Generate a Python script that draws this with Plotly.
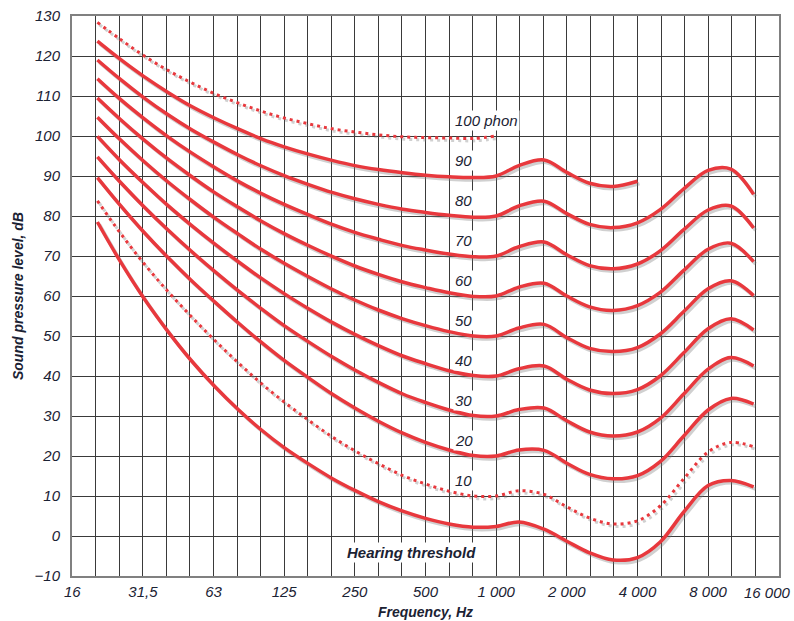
import numpy as np
import plotly.graph_objects as go

# Third-octave frequencies (Hz)
freq = [20, 25, 31.5, 40, 50, 63, 80, 100, 125, 160, 200, 250, 315, 400, 500,
        630, 800, 1000, 1250, 1600, 2000, 2500, 3150, 4000, 5000, 6300, 8000,
        10000, 12500]

# Sound pressure level (dB) for each contour
threshold = [78.5, 68.7, 59.5, 51.1, 44.0, 37.5, 31.5, 26.5, 22.1, 17.9, 14.4, 11.4, 8.6, 6.2, 4.4,
             3.0, 2.2, 2.4, 3.5, 1.7, -1.3, -4.2, -6.0, -5.4, -1.5, 6.0, 12.6, 13.9, 12.3]
phon10 = [83.8, 75.8, 68.2, 61.1, 55.0, 49.0, 43.2, 38.1, 33.5, 28.8, 24.8, 21.3, 18.1, 15.1, 13.0,
          11.2, 10.0, 10.0, 11.3, 10.4, 7.3, 4.5, 3.0, 3.8, 7.5, 14.3, 21.0, 23.4, 22.3]
phon20 = [89.6, 82.7, 76.0, 69.6, 64.0, 58.6, 53.2, 48.4, 43.9, 39.4, 35.5, 32.0, 28.7, 25.7, 23.4,
          21.5, 20.1, 20.0, 21.5, 21.4, 18.2, 15.4, 14.3, 15.1, 18.6, 25.0, 31.5, 34.4, 33.0]
phon30 = [94.8, 88.5, 82.4, 76.5, 71.3, 66.2, 61.2, 56.8, 52.6, 48.4, 44.8, 41.5, 38.4, 35.5, 33.4,
          31.5, 30.1, 30.0, 31.6, 32.0, 28.8, 26.0, 25.0, 26.0, 29.4, 35.5, 41.7, 44.6, 42.5]
phon40 = [99.9, 93.9, 88.2, 82.6, 77.8, 73.1, 68.5, 64.4, 60.6, 56.7, 53.4, 50.4, 47.6, 45.0, 43.1,
          41.3, 40.1, 40.0, 41.8, 42.5, 39.2, 36.5, 35.6, 36.6, 40.0, 45.8, 51.8, 54.3, 51.5]
phon50 = [104.7, 99.1, 93.7, 88.5, 84.0, 79.6, 75.4, 71.6, 68.2, 64.7, 61.7, 59.0, 56.5, 54.3, 52.6,
          51.1, 50.0, 50.0, 52.0, 52.9, 49.6, 46.9, 46.1, 47.1, 50.5, 56.1, 61.8, 63.8, 60.1]
phon60 = [109.5, 104.2, 99.1, 94.2, 90.0, 85.9, 82.1, 78.7, 75.6, 72.5, 69.9, 67.5, 65.4, 63.5, 62.1,
          60.8, 59.9, 60.0, 62.2, 63.2, 60.0, 57.3, 56.4, 57.6, 60.9, 66.4, 71.7, 73.2, 68.6]
phon70 = [114.3, 109.2, 104.4, 99.8, 95.9, 92.2, 88.6, 85.6, 82.9, 80.2, 77.9, 75.9, 74.2, 72.6, 71.5,
          70.5, 69.8, 70.0, 72.3, 73.5, 70.3, 67.6, 66.8, 68.0, 71.3, 76.6, 81.5, 82.5, 77.0]
phon80 = [119.0, 114.2, 109.6, 105.3, 101.7, 98.4, 95.2, 92.5, 90.1, 87.8, 85.9, 84.3, 82.9, 81.7, 80.9,
          80.2, 79.7, 80.0, 82.5, 83.7, 80.6, 77.9, 77.1, 78.3, 81.6, 86.8, 91.4, 91.7, 85.4]
phon90 = [123.7, 119.2, 114.9, 110.9, 107.5, 104.5, 101.7, 99.3, 97.3, 95.4, 93.9, 92.6, 91.6, 90.8, 90.2,
          89.8, 89.6, 90.0, 92.6, 94.0, 90.9, 88.2, 87.4, 88.7]
phon100 = [128.4, 124.2, 120.1, 116.4, 113.4, 110.6, 108.2, 106.2, 104.5, 103.0, 101.8, 101.0, 100.3, 99.8, 99.6,
           99.5, 99.4, 100.0]

# Axis ticks
x_tickvals = [15.625, 31.25, 62.5, 125, 250, 500, 1000, 2000, 4000, 8000]
x_ticktext = ["16", "31,5", "63", "125", "250", "500", "1 000", "2 000", "4 000", "8 000"]
x_last_val, x_last_text = 16000, "16 000"
x_gridvals = [1000 * 2 ** (k / 3) for k in range(-18, 13)]
y_tickvals = list(range(-10, 140, 10))

# Curve labels (text, level)
labels = [("100 phon", 100), ("90", 90), ("80", 80), ("70", 70), ("60", 60), ("50", 50),
          ("40", 40), ("30", 30), ("20", 20), ("10", 10)]

curves = [
    (phon100, True), (phon90, False), (phon80, False), (phon70, False), (phon60, False),
    (phon50, False), (phon40, False), (phon30, False), (phon20, False), (phon10, True),
    (threshold, False),
]

RED = "#e8383d"
SHADOW = "rgba(120,120,120,0.35)"
TXT = "#1b2233"
FONT = "Liberation Sans, Arial, sans-serif"

fig = go.Figure()
xshift = 2 ** (2.0 / 70.7)
for ys, dotted in curves:
    xs = freq[:len(ys)]
    fig.add_trace(go.Scatter(
        x=[v * xshift for v in xs], y=[v - 0.6 for v in ys], mode="lines",
        line=dict(color=SHADOW, width=3.5 if not dotted else 3, shape="spline",
                  dash="3px,4px" if dotted else "solid"),
        hoverinfo="skip", showlegend=False))
for ys, dotted in curves:
    xs = freq[:len(ys)]
    fig.add_trace(go.Scatter(
        x=xs, y=ys, mode="lines",
        line=dict(color=RED, width=3.5 if not dotted else 3, shape="spline",
                  dash="3px,4px" if dotted else "solid"),
        showlegend=False))

lab_x = np.log10(655)
for text, lvl in labels:
    fig.add_annotation(x=lab_x, y=lvl + 4, text=text, showarrow=False, xanchor="left",
                       yanchor="middle", font=dict(family=FONT, size=15, color=TXT,
                                                   style="italic"),
                       bgcolor="white", borderpad=1)
fig.add_annotation(x=np.log10(434), y=-4, text="Hearing threshold", showarrow=False,
                   xanchor="center", yanchor="middle",
                   font=dict(family=FONT, size=15, color=TXT, style="italic", weight="bold"),
                   bgcolor="white", borderpad=1)

axis_font = dict(family=FONT, size=15, color=TXT, style="italic")
# last x tick label, kept inside the page
fig.add_annotation(x=np.log10(x_last_val), y=0, yref="paper", text=x_last_text, showarrow=False,
                   xanchor="right", yanchor="top", xshift=14, yshift=-6, font=axis_font)

fig.update_xaxes(type="log", range=[np.log10(15.625) - 0.001, np.log10(16000) + 0.001],
                 automargin=False,
                 tickvals=x_tickvals, ticktext=x_ticktext, tickfont=axis_font,
                 showgrid=True, gridcolor="#3a3a3a", gridwidth=1,
                 minor=dict(tickvals=x_gridvals, showgrid=True, gridcolor="#3a3a3a", gridwidth=1),
                 ticks="outside", ticklen=1, tickcolor="rgba(0,0,0,0)",
                 showline=True, mirror=True, linecolor="#808080", linewidth=2,
                 zeroline=False,
                 title=dict(text="Frequency, Hz", standoff=8,
                            font=dict(family=FONT, size=14, color=TXT, style="italic", weight="bold")))
fig.update_yaxes(range=[-10, 130], tickvals=y_tickvals, tickfont=axis_font,
                 automargin=False,
                 showgrid=True, gridcolor="#3a3a3a", gridwidth=1,
                 ticks="outside", ticklen=7, tickcolor="rgba(0,0,0,0)",
                 showline=True, mirror=True, linecolor="#808080", linewidth=2,
                 zeroline=False,
                 title=dict(text="Sound pressure level, dB", standoff=8,
                            font=dict(family=FONT, size=14, color=TXT, style="italic", weight="bold")))
fig.update_layout(width=794, height=621, plot_bgcolor="white", paper_bgcolor="white",
                  margin=dict(l=72, r=15, t=16, b=45), showlegend=False)
fig.write_html("out.html", config={"displayModeBar": False},
               post_script="document.body.style.margin='0';document.body.style.padding='0';")
